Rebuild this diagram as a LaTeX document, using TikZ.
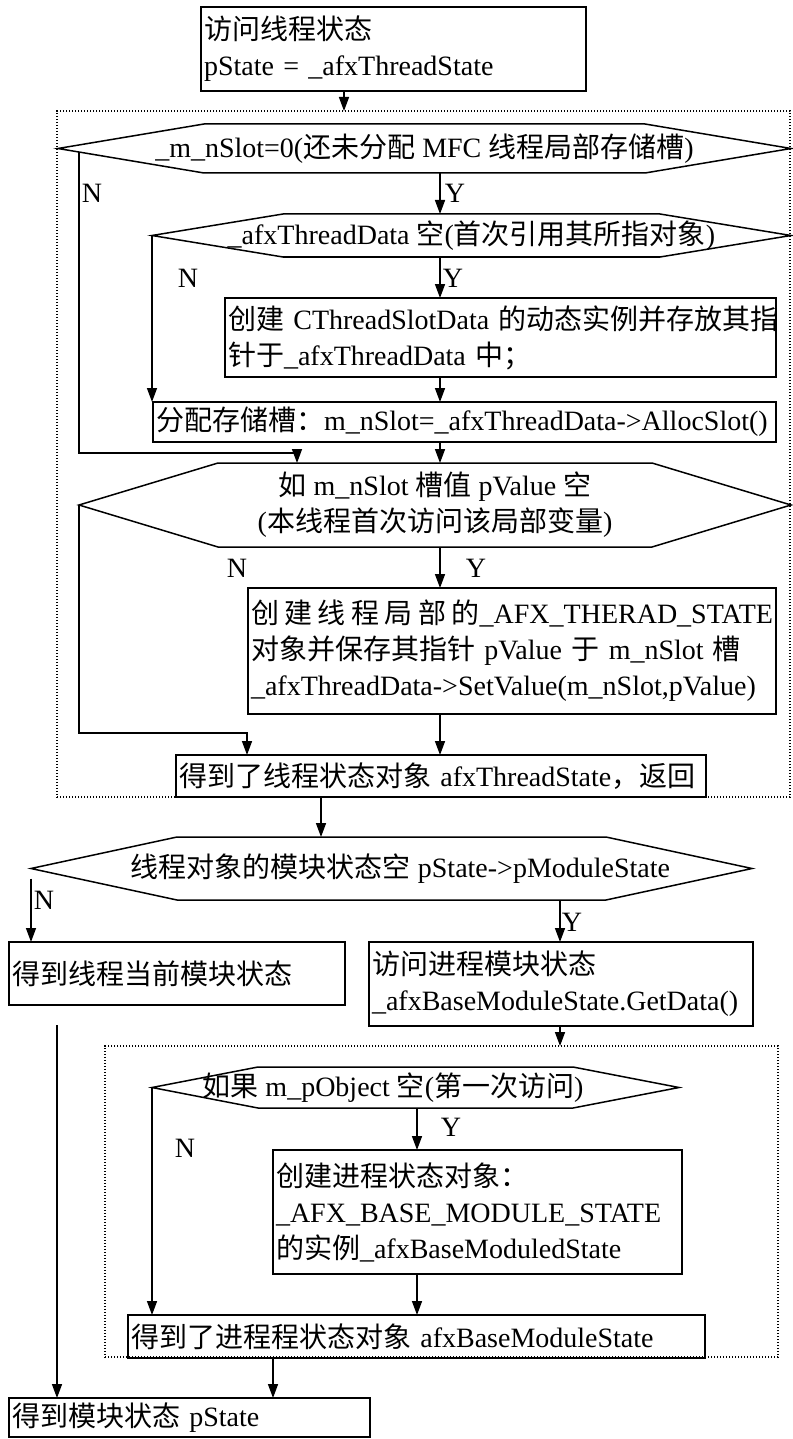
\documentclass[tikz,border=0pt]{standalone}
\usepackage{fontspec}
\setmainfont{Liberation Serif}
\newfontfamily\cjk{Noto Sans CJK SC}
\newcommand{\zh}[1]{{\cjk #1}}
\usepackage{tikz}
\usetikzlibrary{arrows.meta, calc}

\tikzset{
    txt/.style={font=\fontsize{14pt}{18pt}\selectfont},
    box/.style={txt, draw, line width=0.75pt, anchor=north west, outer sep=0pt,
                inner xsep=1.5pt, inner ysep=0pt, align=left},
    hexa/.style={txt, anchor=north west, outer sep=0pt, inner sep=0pt},
    frame/.style={draw, line width=0.6pt, dash pattern=on 0.6pt off 0.9pt,
                  anchor=north west, outer sep=0pt, inner sep=0pt},
    arr/.style={line width=0.75pt, -{Triangle[length=7pt, width=5pt]}},
    yn/.style={txt, inner sep=0pt},
}
% hexagon outline round a node
\newcommand{\drawhex}[2]{%
    \draw[line width=0.75pt] (#1.west) -- ([xshift=#2]#1.north west)
        -- ([xshift=-#2]#1.north east) -- (#1.east)
        -- ([xshift=-#2]#1.south east) -- ([xshift=#2]#1.south west) -- cycle;}

\begin{document}
\begin{tikzpicture}[x=0.5pt, y=-0.5pt]
    \useasboundingbox (0,0) rectangle (792,1439);

    \node[frame, minimum width=366.5pt, minimum height=343pt] (frame1) at (57,111) {};
    \node[frame, minimum width=336.5pt, minimum height=155.5pt] (frame2) at (105,1046) {};

    \node[box, text width=189.5pt, minimum height=42pt] (bTop) at (201,7)
        {\zh{访问线程状态}\\pState = \_afxThreadState};

    \node[hexa, minimum width=366.5pt, minimum height=24.5pt] (h1) at (58,124)
        {\_m\_nSlot=0(\zh{还未分配} MFC \zh{线程局部存储槽})};
    \drawhex{h1}{73pt}
    \node[hexa, minimum width=319.5pt, minimum height=21.5pt] (h2) at (152,214)
        {\_afxThreadData \zh{空}(\zh{首次引用其所指对象})};
    \drawhex{h2}{65.5pt}

    \node[box, text width=272.5pt, minimum height=39.5pt] (bSlot) at (225,298)
        {\mbox{\zh{创建} CThreadSlotData \zh{的动态实例并存放其指}}\\\zh{针于}\_afxThreadData \zh{中；}};
    \node[box, text width=308.5pt, minimum height=20pt] (bAlloc) at (153,402)
        {\zh{分配存储槽：}m\_nSlot=\_afxThreadData->AllocSlot()};

    \node[hexa, align=center, minimum width=356pt, minimum height=42pt] (h3) at (79,463)
        {\zh{如} m\_nSlot \zh{槽值} pValue \zh{空}\\(\zh{本线程首次访问该局部变量})};
    \drawhex{h3}{69.5pt}

    \node[box, text width=261pt, minimum height=63pt] (bLocal) at (248,588)
        {\makebox[\linewidth][s]{\zh{创\hfil 建\hfil 线\hfil 程\hfil 局\hfil 部\hfil 的}\_AFX\_THERAD\_STATE}\\
         \makebox[\linewidth][s]{\zh{对象并保存其指针} pValue \zh{于} m\_nSlot \zh{槽}}\\
         \_afxThreadData->SetValue(m\_nSlot,pValue)};
    \node[box, text width=262pt, minimum height=21pt] (bRes1) at (176,755)
        {\zh{得到了线程状态对象} afxThreadState\zh{，返回}};

    \node[hexa, minimum width=360.5pt, minimum height=31.5pt] (h4) at (31,837)
        {\hspace*{9pt}\zh{线程对象的模块状态空} pState->pModuleState};
    \drawhex{h4}{73pt}

    \node[box, text width=165pt, minimum height=31.5pt] (bCur) at (9,942)
        {\zh{得到线程当前模块状态}};
    \node[box, text width=189pt, minimum height=42pt] (bProc) at (369,942)
        {\zh{访问进程模块状态}\\\_afxBaseModuleState.GetData()};

    \node[hexa, minimum width=263.5pt, minimum height=20.5pt] (h5) at (152,1067)
        {\hspace*{-22.5pt}\zh{如果} m\_pObject \zh{空}(\zh{第一次访问})};
    \drawhex{h5}{53pt}

    \node[box, text width=201.5pt, minimum height=62pt] (bCreate) at (273,1150)
        {\zh{创建进程状态对象：}\\\_AFX\_BASE\_MODULE\_STATE\\\zh{的实例}\_afxBaseModuledState};
    \node[box, text width=285.5pt, minimum height=21.5pt] (bRes2) at (128,1315)
        {\zh{得到了进程程状态对象} afxBaseModuleState};
    \node[box, text width=177.5pt, minimum height=19.5pt] (bFinal) at (9,1398)
        {\zh{得到模块状态} pState};

    % yes / no labels
    \node[yn] (n1) at (92,193) {N};
    \node[yn] (y1) at (455,193) {Y};
    \node[yn] (n2) at (188,278) {N};
    \node[yn] (y2) at (453,278) {Y};
    \node[yn] (n3) at (237,568) {N};
    \node[yn] (y3) at (476,568) {Y};
    \node[yn] (n4) at (44,900) {N};
    \node[yn] (y4) at (572,922) {Y};
    \node[yn] (n5) at (185,1148) {N};
    \node[yn] (y5) at (451,1127) {Y};

    \coordinate (c0) at (344,0);
    \coordinate (c1) at (440,0);
    \coordinate (c2) at (321,0);
    \coordinate (c3) at (560,0);
    \coordinate (c4) at (417,0);
    \coordinate (c5) at (273,0);
    \coordinate (c6) at (79,0);
    \coordinate (j1) at (297,453);
    \coordinate (j3) at (247,733);
    \coordinate (s1) at (57,1025);

    \draw[arr] (bTop.south -| c0) -- (c0 |- frame1.north);
    \draw[arr] (h1.south -| c1) -- (c1 |- h2.north);
    \draw[arr] (h2.south -| c1) -- (c1 |- bSlot.north);
    \draw[arr] (bSlot.south -| c1) -- (c1 |- bAlloc.north);
    \draw[arr] (bAlloc.south -| c1) -- (c1 |- h3.north);
    \draw[arr] ($(h1.west -| c6)+(0,3.5)$) |- (j1) -- (j1 |- h3.north);
    \draw[arr] (h2.west) -- (h2.west |- bAlloc.north);
    \draw[arr] (h3.south -| c1) -- (c1 |- bLocal.north);
    \draw[arr] (h3.west) |- (j3) -- (j3 |- bRes1.north);
    \draw[arr] (bLocal.south -| c1) -- (c1 |- bRes1.north);
    \draw[arr] (bRes1.south -| c2) -- (c2 |- h4.north);
    \draw[arr] ($(h4.west)+(0,10)$) -- (h4.west |- bCur.north);
    \draw[arr] (h4.south -| c3) -- (c3 |- bProc.north);
    \draw[arr] (bProc.south -| c3) -- (c3 |- frame2.north);
    \draw[arr] (h5.south -| c4) -- (c4 |- bCreate.north);
    \draw[arr] (h5.west) -- (h5.west |- bRes2.north);
    \draw[arr] (bCreate.south -| c4) -- (c4 |- bRes2.north);
    \draw[arr] (bRes2.south -| c5) -- (c5 |- bFinal.north);
    \draw[arr] (s1) -- (s1 |- bFinal.north);
\end{tikzpicture}
\end{document}
